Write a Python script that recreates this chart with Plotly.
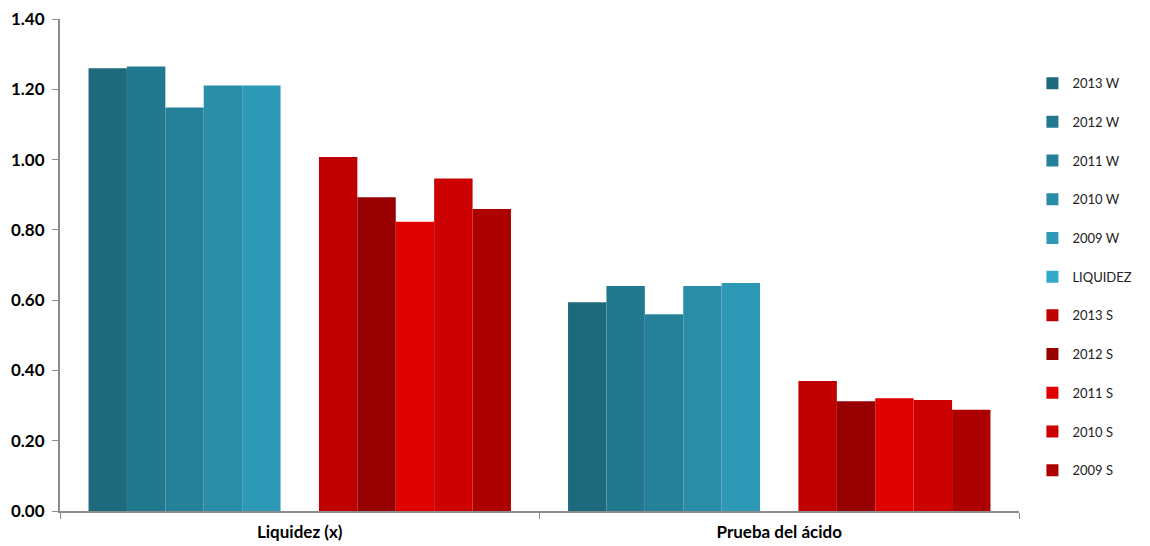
import plotly.graph_objects as go

categories = ["Liquidez (x)", "Prueba del ácido"]

series_names = ["2013 W", "2012 W", "2011 W", "2010 W", "2009 W", "LIQUIDEZ",
                "2013 S", "2012 S", "2011 S", "2010 S", "2009 S"]

w2013 = [1.26, 0.594]
w2012 = [1.265, 0.640]
w2011 = [1.148, 0.560]
w2010 = [1.211, 0.640]
w2009 = [1.211, 0.649]
liquidez = [None, None]
s2013 = [1.007, 0.370]
s2012 = [0.893, 0.312]
s2011 = [0.823, 0.321]
s2010 = [0.946, 0.316]
s2009 = [0.859, 0.288]

series_values = [w2013, w2012, w2011, w2010, w2009, liquidez,
                 s2013, s2012, s2011, s2010, s2009]

series_colors = ["#1d6a7c", "#21788f", "#25819a", "#2a8da8", "#2e99b7", "#33a9cb",
                 "#c00000", "#960000", "#e00000", "#cc0000", "#ad0000"]

y_ticks = [0, 0.2, 0.4, 0.6, 0.8, 1.0, 1.2, 1.4]

fig = go.Figure()
for i, (name, vals, col) in enumerate(zip(series_names, series_values, series_colors)):
    fig.add_trace(go.Bar(
        name=name, x=categories, y=vals,
        marker=dict(color=col, line=dict(width=0)),
        legendgroup=f"g{i}",
    ))

font_family = "Lato, 'Open Sans', sans-serif"

fig.update_layout(
    width=1150, height=546,
    margin=dict(l=60, r=131, t=19, b=35),
    paper_bgcolor="white", plot_bgcolor="white",
    barmode="group", bargap=0.119, bargroupgap=0,
    font=dict(family=font_family, size=14, color="black"),
    legend=dict(
        x=1.014, xanchor="left", y=0.900, yanchor="top",
        font=dict(size=13, color="#222222"),
        tracegroupgap=18.8, itemwidth=30,
        bgcolor="rgba(0,0,0,0)",
    ),
    showlegend=True,
)

fig.update_xaxes(
    type="category", automargin=False,
    showline=True, linecolor="#8c8c8c", linewidth=2,
    ticks="outside", tickson="boundaries", ticklen=6, tickcolor="#8c8c8c", tickwidth=1,
    ticklabelstandoff=5,
    tickfont=dict(family=font_family, size=17, color="black", weight="bold"),
    showgrid=False, zeroline=False,
)

fig.update_yaxes(
    range=[0, 1.4], tickvals=y_ticks, tickformat=".2f", automargin=False,
    showline=True, linecolor="#8c8c8c", linewidth=2,
    ticks="outside", ticklen=6, tickcolor="#8c8c8c", tickwidth=1,
    ticklabelstandoff=4,
    tickfont=dict(family=font_family, size=17, color="black", weight="bold"),
    showgrid=False, zeroline=False,
)

fig.write_html("out.html")
